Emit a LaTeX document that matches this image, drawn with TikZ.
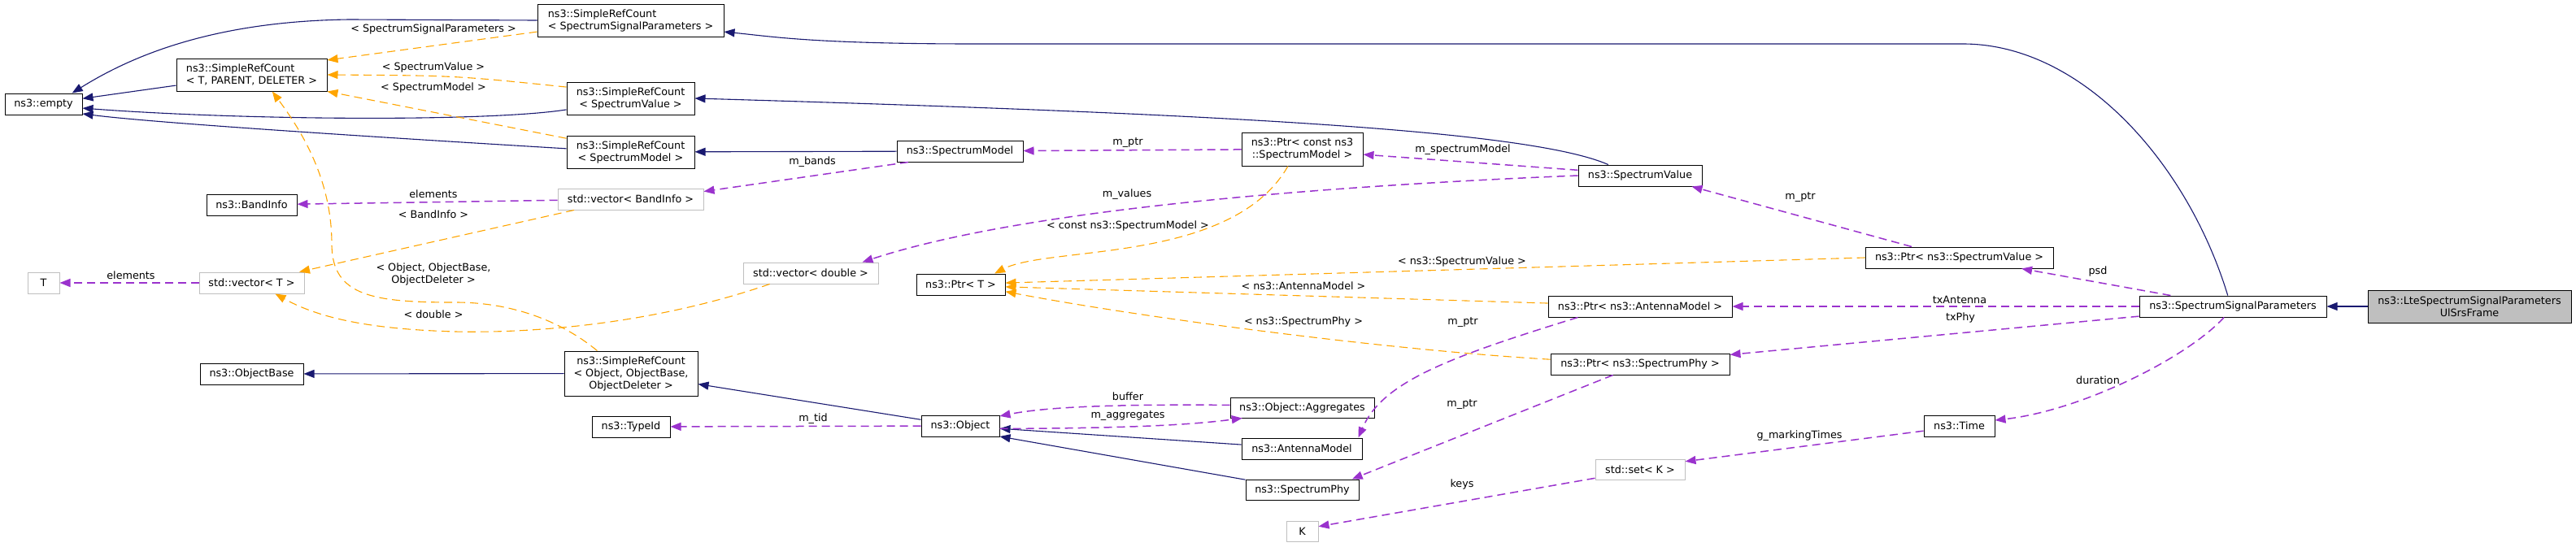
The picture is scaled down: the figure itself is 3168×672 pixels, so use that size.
\documentclass[tikz,border=0pt]{standalone}
\usepackage{fontspec}
\setmainfont{DejaVu Sans}
\usetikzlibrary{arrows.meta}

\definecolor{inhcol}{HTML}{191970}
\definecolor{tplcol}{HTML}{FFA500}
\definecolor{usecol}{HTML}{9A32CD}
\definecolor{undoccol}{HTML}{BFBFBF}

\begin{document}
\begin{tikzpicture}[x=1pt, y=-1pt, >={Triangle[length=13pt,width=10pt]},
  font=\fontsize{12.75}{15}\selectfont,
  main node/.style={rectangle, draw=black, line width=1pt, inner sep=0pt, align=center, minimum height=26pt},
  grey node/.style={main node, draw=undoccol},
  edge label/.style={inner sep=0pt, align=center},
  inh/.style={->, draw=inhcol, line width=1.1pt},
  tpl/.style={->, draw=tplcol, line width=1.1pt, dash pattern=on 10pt off 6pt},
  use/.style={->, draw=usecol, line width=1.5pt, dash pattern=on 10pt off 6pt}]

  \useasboundingbox (0,0) rectangle (3168,672);

  % Define nodes
  \node[main node, minimum width=95pt] (empty) at (53.5,128) {ns3::empty};
  \node[main node, minimum width=185pt, minimum height=40pt, align=left] (srctpd) at (309.5,92) {ns3::SimpleRefCount\\< T, PARENT, DELETER >};
  \node[main node, minimum width=229pt, minimum height=40pt, align=left] (srcssp) at (775.5,25) {ns3::SimpleRefCount\\< SpectrumSignalParameters >};
  \node[main node, minimum width=157pt, minimum height=40pt] (srcsv) at (775.5,121) {ns3::SimpleRefCount\\< SpectrumValue >};
  \node[main node, minimum width=157pt, minimum height=40pt] (srcsm) at (775.5,187) {ns3::SimpleRefCount\\< SpectrumModel >};
  \node[main node, minimum width=111pt] (bandinfo) at (309.5,252) {ns3::BandInfo};
  \node[grey node, minimum width=179pt] (vecband) at (775.5,245) {std::vector< BandInfo >};
  \node[grey node, minimum width=39pt] (tnode) at (53.5,348) {T};
  \node[grey node, minimum width=129pt] (vect) at (309.5,348) {std::vector< T >};
  \node[main node, minimum width=127pt] (objbase) at (309.5,460) {ns3::ObjectBase};
  \node[main node, minimum width=164pt, minimum height=55pt] (srcood) at (776,459.5) {ns3::SimpleRefCount\\< Object, ObjectBase,\\ObjectDeleter >};
  \node[main node, minimum width=96pt] (typeid) at (776,525) {ns3::TypeId};
  \node[main node, minimum width=155pt] (specmodel) at (1180.5,186) {ns3::SpectrumModel};
  \node[grey node, minimum width=166pt] (vecdouble) at (997,336) {std::vector< double >};
  \node[main node, minimum width=109pt] (ptrt) at (1181.5,350) {ns3::Ptr< T >};
  \node[main node, minimum width=96pt] (object) at (1181,524) {ns3::Object};
  \node[main node, minimum width=149pt, minimum height=41pt] (ptrcsm) at (1601.5,183.5) {ns3::Ptr< const ns3\\::SpectrumModel >};
  \node[main node, minimum width=152pt] (specvalue) at (2017,216) {ns3::SpectrumValue};
  \node[main node, minimum width=226pt] (ptram) at (2017,377) {ns3::Ptr< ns3::AntennaModel >};
  \node[main node, minimum width=220pt] (ptrsp) at (2017,448) {ns3::Ptr< ns3::SpectrumPhy >};
  \node[main node, minimum width=177pt, minimum height=25pt] (aggr) at (1601.5,501.5) {ns3::Object::Aggregates};
  \node[main node, minimum width=148pt] (antmodel) at (1601,552) {ns3::AntennaModel};
  \node[main node, minimum width=139pt, minimum height=25pt] (specphy) at (1601.5,602.5) {ns3::SpectrumPhy};
  \node[grey node, minimum width=39pt, minimum height=25pt] (knode) at (1601.5,653.5) {K};
  \node[main node, minimum width=87pt] (time) at (2409.5,524) {ns3::Time};
  \node[grey node, minimum width=110pt, minimum height=25pt] (setk) at (2017,577.5) {std::set< K >};
  \node[main node, minimum width=231pt] (ptrsv) at (2409.5,317) {ns3::Ptr< ns3::SpectrumValue >};
  \node[main node, minimum width=230pt] (ssp) at (2746,377) {ns3::SpectrumSignalParameters};
  \node[main node, minimum width=250pt, minimum height=40pt, fill=undoccol] (lte) at (3037,377) {ns3::LteSpectrumSignalParameters\\UlSrsFrame};

  % Inheritance
  \draw[inh] (srctpd) -- (empty);
  \draw[inh] (srcssp.west) -- (430,24) .. controls (260,26) and (160,70) .. (empty.21);
  \draw[inh] (srcsv.190) .. controls (600,150) and (300,148) .. (empty.354);
  \draw[inh] (srcsm.177) .. controls (400,165) and (180,150) .. (empty.346);
  \draw[inh] (specmodel) -- (srcsm);
  \draw[inh] (specvalue.161) .. controls (1880,160) and (1500,140) .. (srcsv.east);
  \draw[inh] (ssp.115) .. controls (2690,200) and (2560,54) .. (2414,54) -- (1200,54) .. controls (1000,54) and (950,45) .. (srcssp.353);
  \draw[inh] (lte) -- (ssp);
  \draw[inh] (srcood) -- (objbase);
  \draw[inh] (object) -- (srcood);
  \draw[inh] (antmodel) -- (object);
  \draw[inh] (specphy) -- (object.345);

  % Template instances
  \draw[tpl] (srcssp.187) -- (srctpd.11);
  \draw[tpl] (srcsv.170) .. controls (560,93) .. (srctpd.east);
  \draw[tpl] (srcsm.168) -- (srctpd.south east);
  \draw[tpl] (srcood.146) .. controls (690,395) and (630,372) .. (560,372) .. controls (460,372) and (408,365) .. (408,300) .. controls (408,220) and (370,160) .. (srctpd.321);
  \draw[tpl] (vecband.191) -- (vect.13);
  \draw[tpl] (vecdouble.195) .. controls (800,400) and (650,410) .. (560,408) .. controls (450,405) and (390,390) .. (vect.335);
  \draw[tpl] (ptrcsm.230) .. controls (1515,325) and (1290,302) .. (ptrt.18);
  \draw[tpl] (ptrsv.west) -- (ptrt.2);
  \draw[tpl] (ptram.178) -- (ptrt.357);
  \draw[tpl] (ptrsp.177) .. controls (1700,430) and (1400,390) .. (ptrt.351);

  % Usage
  \draw[use] (vecband) -- (bandinfo);
  \draw[use] (vect) -- (tnode);
  \draw[use] (specmodel.192) -- (vecband.6);
  \draw[use] (ptrcsm) -- (specmodel);
  \draw[use] (specvalue.175) -- (ptrcsm.355);
  \draw[use] (specvalue.west) .. controls (1600,230) and (1250,260) .. (vecdouble.12);
  \draw[use] (ptrsv.167) -- (specvalue.348);
  \draw[use] (ssp.170) -- (ptrsv.350);
  \draw[use] (ssp) -- (ptram);
  \draw[use] (ssp.186) -- (ptrsp.6);
  \draw[use] (ssp.231) .. controls (2690,440) and (2560,505) .. (time.9);
  \draw[use] (time.188) -- (setk.10);
  \draw[use] (setk.191) -- (knode.16);
  \draw[use] (ptram.190) .. controls (1780,440) and (1700,470) .. (antmodel.11);
  \draw[use] (ptrsp.202) -- (specphy.12);
  \draw[use] (object) -- (typeid);
  \draw[use] (aggr.178) .. controls (1350,497) and (1280,502) .. (object.14);
  \draw[use] (object.356) .. controls (1400,527) and (1470,522) .. (aggr.190);

  % Edge labels
  \node[edge label] (lssp) at (533,36) {< SpectrumSignalParameters >};
  \node[edge label] (lsv) at (533,83) {< SpectrumValue >};
  \node[edge label] (lsm) at (533,108) {< SpectrumModel >};
  \node[edge label] (lood) at (533,337.5) {< Object, ObjectBase,\\ObjectDeleter >};
  \node[edge label] (lband) at (533,264) {< BandInfo >};
  \node[edge label] (ldbl) at (533,387) {< double >};
  \node[edge label] (lcsm) at (1387,278) {< const ns3::SpectrumModel >};
  \node[edge label] (lpsv) at (1798,322) {< ns3::SpectrumValue >};
  \node[edge label] (lpam) at (1603,352) {< ns3::AntennaModel >};
  \node[edge label] (lpsp) at (1603,396) {< ns3::SpectrumPhy >};
  \node[edge label] (lelem1) at (533,239) {elements};
  \node[edge label] (lelem2) at (161,339) {elements};
  \node[edge label] (lbands) at (999,199) {m\_bands};
  \node[edge label] (lptr1) at (1387,176) {m\_ptr};
  \node[edge label] (lspm) at (1799,184) {m\_spectrumModel};
  \node[edge label] (lvals) at (1386,239) {m\_values};
  \node[edge label] (lptr2) at (2214,243) {m\_ptr};
  \node[edge label] (lpsd) at (2580,334) {psd};
  \node[edge label] (ltxa) at (2410,369) {txAntenna};
  \node[edge label] (ltxp) at (2411,391) {txPhy};
  \node[edge label] (ldur) at (2580,468) {duration};
  \node[edge label] (lmark) at (2213,536) {g\_markingTimes};
  \node[edge label] (lkeys) at (1798,596) {keys};
  \node[edge label] (lptr3) at (1799,397) {m\_ptr};
  \node[edge label] (lptr4) at (1798,498) {m\_ptr};
  \node[edge label] (ltid) at (1000,515) {m\_tid};
  \node[edge label] (lbuf) at (1387,488) {buffer};
  \node[edge label] (laggr) at (1387,512) {m\_aggregates};
\end{tikzpicture}
\end{document}
